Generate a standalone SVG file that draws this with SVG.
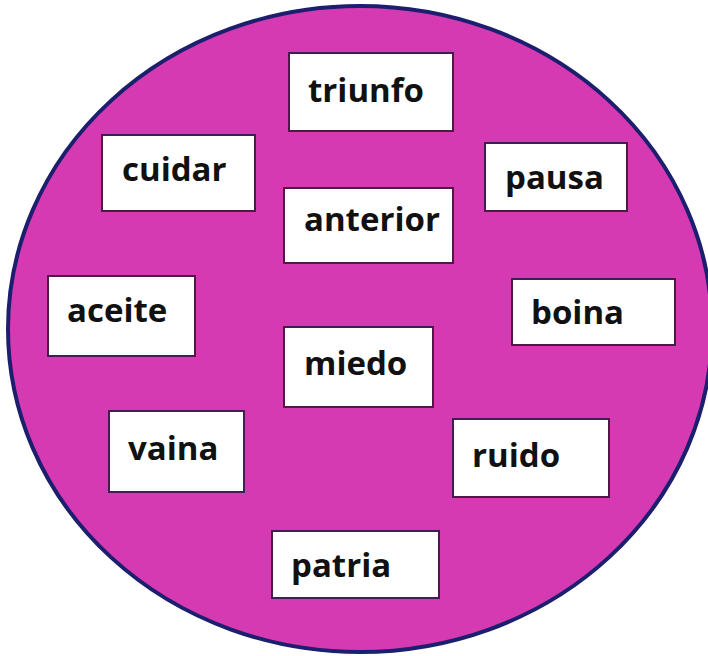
<svg xmlns="http://www.w3.org/2000/svg" width="708" height="656" viewBox="0 0 708 656">
<style>
.bg{fill:#d63ab3;stroke:#1c1f6e;stroke-width:4}
.box{fill:#ffffff;stroke:#4a1a4a;stroke-width:2}
.t{font-family:"Open Sans","Noto Sans",sans-serif;font-weight:bold;font-size:33px;fill:#111111}
</style>
<rect width="708" height="656" fill="#ffffff"/>
<ellipse class="bg" cx="360" cy="329" rx="352" ry="323"/>
<g id="triunfo"><rect class="box" x="289" y="53" width="164" height="78"/><text class="t" x="308" y="102">triunfo</text></g>
<g id="cuidar"><rect class="box" x="102" y="135" width="153" height="76"/><text class="t" x="122" y="181">cuidar</text></g>
<g id="pausa"><rect class="box" x="485" y="143" width="142" height="68"/><text class="t" x="505" y="189">pausa</text></g>
<g id="anterior"><rect class="box" x="284" y="188" width="169" height="75"/><text class="t" x="304" y="231">anterior</text></g>
<g id="aceite"><rect class="box" x="48" y="276" width="147" height="80"/><text class="t" x="67" y="322">aceite</text></g>
<g id="boina"><rect class="box" x="512" y="279" width="163" height="66"/><text class="t" x="531" y="324">boina</text></g>
<g id="miedo"><rect class="box" x="284" y="327" width="149" height="80"/><text class="t" x="304" y="375">miedo</text></g>
<g id="vaina"><rect class="box" x="109" y="411" width="135" height="81"/><text class="t" x="128" y="460">vaina</text></g>
<g id="ruido"><rect class="box" x="453" y="419" width="156" height="78"/><text class="t" x="472" y="467">ruido</text></g>
<g id="patria"><rect class="box" x="272" y="531" width="167" height="67"/><text class="t" x="291" y="577">patria</text></g>
<g id="connectors"></g>
</svg>
